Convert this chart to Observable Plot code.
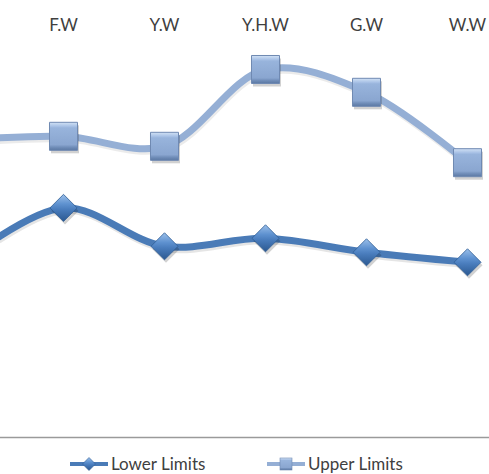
<!DOCTYPE html>
<html>
<head>
<meta charset="utf-8">
<script src="https://cdn.jsdelivr.net/npm/d3@7"></script>
<script src="https://cdn.jsdelivr.net/npm/@observablehq/plot@0.6"></script>
<style>
  html, body { margin: 0; padding: 0; background: #fff; overflow: hidden; }
  #chart svg { display: block; overflow: hidden; }
  #legend svg { display: block; }
</style>
</head>
<body>
<div id="chart"></div>
<div id="legend"></div>
<script>
// Categories (first one lies off the left edge of the cropped picture)
const categories = ["B.W", "F.W", "Y.W", "Y.H.W", "G.W", "W.W"];
const tickLabels = ["F.W", "Y.W", "Y.H.W", "G.W", "W.W"];
const lowerLimits = [43.8, 57.4, 47.8, 49.8, 46.3, 43.8];
const upperLimits = [74.3, 75.3, 72.8, 92.0, 86.3, 68.7];
const seriesNames = ["Lower Limits", "Upper Limits"];

const lowerData = categories.map((c, i) => ({cat: c, value: lowerLimits[i]}));
const upperData = categories.map((c, i) => ({cat: c, value: upperLimits[i]}));
const visibleLower = lowerData.filter(d => tickLabels.includes(d.cat));
const visibleUpper = upperData.filter(d => tickLabels.includes(d.cat));

const diamond45 = {
  draw(ctx, size) {
    const s = Math.sqrt(size / 2);
    ctx.moveTo(0, -s); ctx.lineTo(s, 0); ctx.lineTo(0, s); ctx.lineTo(-s, 0); ctx.closePath();
  }
};

const lowerColor = "#4a7bb7";
const upperColor = "#95afd5";

const chart = Plot.plot({
  width: 489,
  height: 440,
  marginTop: 0, marginLeft: 0, marginRight: 0, marginBottom: 3,
  style: {fontFamily: "Lato, 'Liberation Sans', sans-serif", background: "#fff"},
  x: {type: "point", domain: categories, range: [-39.5, 468], padding: 0, axis: null},
  y: {domain: [0, 100], range: [437, 37], axis: null},
  marks: [
    Plot.ruleY([0], {stroke: "#9a9a9a", strokeWidth: 1.3}),
    Plot.text(tickLabels, {x: d => d, frameAnchor: "top", dy: 18, fontSize: 17, fill: "#404040"}),
    // shadows
    Plot.line(upperData, {x: "cat", y: "value", curve: "catmull-rom", stroke: "#000", strokeOpacity: 0.08, strokeWidth: 7, dx: 1, dy: 2.5, clip: true}),
    Plot.line(lowerData, {x: "cat", y: "value", curve: "catmull-rom", stroke: "#000", strokeOpacity: 0.1, strokeWidth: 7, dx: 1, dy: 2.5, clip: true}),
    Plot.line(upperData, {x: "cat", y: "value", curve: "catmull-rom", stroke: upperColor, strokeWidth: 7, clip: true}),
    Plot.line(lowerData, {x: "cat", y: "value", curve: "catmull-rom", stroke: lowerColor, strokeWidth: 7, clip: true}),
    Plot.dot(visibleUpper, {x: "cat", y: "value", symbol: "square", r: 15.8, fill: "#000", fillOpacity: 0.18, stroke: "none", dx: 1.5, dy: 3}),
    Plot.dot(visibleUpper, {x: "cat", y: "value", symbol: "square", r: 15.8, fill: "url(#sqGrad)", stroke: "#6f89b2", strokeWidth: 1}),
    Plot.dot(visibleLower, {x: "cat", y: "value", symbol: diamond45, r: 10.8, fill: "#000", fillOpacity: 0.18, stroke: "none", dx: 1.5, dy: 3}),
    Plot.dot(visibleLower, {x: "cat", y: "value", symbol: diamond45, r: 10.8, fill: "url(#dmGrad)", stroke: "#2f5d94", strokeWidth: 0.8})
  ]
});

function addDefs(svgNode) {
  const svg = d3.select(svgNode);
  const defs = svg.insert("defs", ":first-child");
  const sq = defs.append("linearGradient").attr("id", "sqGrad").attr("x1", 0).attr("y1", 0).attr("x2", 0).attr("y2", 1);
  [["0%", "#d2e2f5"], ["14%", "#a9c2e6"], ["20%", "#98b4dc"], ["80%", "#8aa6d0"], ["88%", "#7390bb"], ["100%", "#5a77a2"]]
    .forEach(([o, c]) => sq.append("stop").attr("offset", o).attr("stop-color", c));
  const dm = defs.append("linearGradient").attr("id", "dmGrad").attr("x1", 0).attr("y1", 0).attr("x2", 0).attr("y2", 1);
  [["0%", "#9cc0ea"], ["35%", "#5f92d0"], ["55%", "#4a7dbd"], ["100%", "#2b5890"]]
    .forEach(([o, c]) => dm.append("stop").attr("offset", o).attr("stop-color", c));
}
addDefs(chart);
document.getElementById("chart").appendChild(chart);

// Legend
const lg = d3.select("#legend").append("svg").attr("width", 489).attr("height", 34)
  .style("font-family", "Lato, 'Liberation Sans', sans-serif");
const items = [
  {name: seriesNames[0], x0: 70, color: lowerColor, sym: "diamond"},
  {name: seriesNames[1], x0: 267, color: upperColor, sym: "square"}
];
const ly = 24;
items.forEach(it => {
  lg.append("line").attr("x1", it.x0).attr("x2", it.x0 + 38).attr("y1", ly).attr("y2", ly)
    .attr("stroke", it.color).attr("stroke-width", 4);
  const cx = it.x0 + 19;
  if (it.sym === "diamond") {
    lg.append("path").attr("d", `M${cx},${ly - 6.5}L${cx + 6.5},${ly}L${cx},${ly + 6.5}L${cx - 6.5},${ly}Z`)
      .attr("fill", "url(#dmGrad)").attr("stroke", "#2f5d94").attr("stroke-width", 0.6);
  } else {
    lg.append("rect").attr("x", cx - 6).attr("y", ly - 6).attr("width", 12).attr("height", 12)
      .attr("fill", "url(#sqGrad)").attr("stroke", "#6f89b2").attr("stroke-width", 0.6);
  }
  lg.append("text").attr("x", it.x0 + 41).attr("y", ly + 6).attr("font-size", 17).attr("fill", "#404040").text(it.name);
});
</script>
</body>
</html>
